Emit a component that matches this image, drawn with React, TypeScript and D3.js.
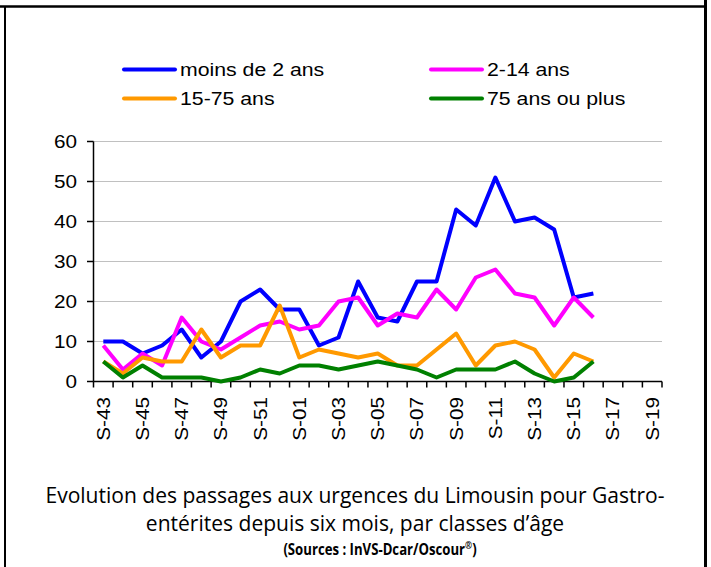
import React from 'react'
import * as d3 from 'd3'

// weeks on the x axis (S-43 .. S-52, then S-01 .. S-19)
const weeks = ['S-43', 'S-44', 'S-45', 'S-46', 'S-47', 'S-48', 'S-49', 'S-50', 'S-51', 'S-52',
  'S-01', 'S-02', 'S-03', 'S-04', 'S-05', 'S-06', 'S-07', 'S-08', 'S-09', 'S-10',
  'S-11', 'S-12', 'S-13', 'S-14', 'S-15', 'S-16', 'S-17', 'S-18', 'S-19']

const moins2 = [10, 10, 7, 9, 13, 6, 10, 20, 23, 18, 18, 9, 11, 25, 16, 15, 25, 25, 43, 39, 51, 40, 41, 38, 21, 22]
const de2a14 = [9, 3, 7, 4, 16, 10, 8, 11, 14, 15, 13, 14, 20, 21, 14, 17, 16, 23, 18, 26, 28, 22, 21, 14, 21, 16]
const de15a75 = [5, 2, 6, 5, 5, 13, 6, 9, 9, 19, 6, 8, 7, 6, 7, 4, 4, 8, 12, 4, 9, 10, 8, 1, 7, 5]
const plus75 = [5, 1, 4, 1, 1, 1, 0, 1, 3, 2, 4, 4, 3, 4, 5, 4, 3, 1, 3, 3, 3, 5, 2, 0, 1, 5]

const yTicks = [0, 10, 20, 30, 40, 50, 60]

const series = [
  { name: 'moins de 2 ans', values: moins2, color: '#0000ff' },
  { name: '2-14 ans', values: de2a14, color: '#ff00ff' },
  { name: '15-75 ans', values: de15a75, color: '#ff9900' },
  { name: '75 ans ou plus', values: plus75, color: '#008000' },
]

const W = 711
const H = 567
const font = 'Arial, "Liberation Sans", sans-serif'
const titleFont = '"Open Sans", sans-serif'
// the original glyphs are a bit wider than Arial
const stretch = 1.12

export default function App() {
  const x = d3.scaleBand<string>().domain(weeks).range([93.5, 662]).padding(0)
  const y = d3.scaleLinear().domain([0, 60]).range([381.5, 141.5])
  const bw = x.bandwidth()

  const line = d3.line<number>()
    .x((d, i) => (x(weeks[i]) as number) + bw / 2)
    .y(d => y(d))

  // tick marks sit between categories
  const xTickPos = weeks.map(w => x(w) as number).concat([662])

  return (
    <svg width={W} height={H} style={{ position: 'absolute', left: 0, top: 0, background: '#fff' }}>
      {/* frame */}
      <line x1={0} x2={705} y1={6.5} y2={6.5} stroke="#000" strokeWidth={2.5} />
      <line x1={5} x2={5} y1={6} y2={H} stroke="#000" strokeWidth={2} />
      <line x1={705.5} x2={705.5} y1={0} y2={H} stroke="#000" strokeWidth={3} />

      {/* legend */}
      {series.map((s, i) => {
        const lx = i % 2 === 0 ? 124 : 431
        const ly = i < 2 ? 69.5 : 98.5
        return (
          <g key={s.name}>
            <line x1={lx} x2={lx + 51} y1={ly} y2={ly} stroke={s.color} strokeWidth={4} strokeLinecap="round" />
            <text transform={`translate(${lx + 56},${ly + 6.5}) scale(1.15,1)`}
              fontFamily={font} fontSize={18.5} fill="#000">{s.name}</text>
          </g>
        )
      })}

      {/* gridlines */}
      {yTicks.filter(t => t > 0).map(t => (
        <line key={t} x1={93.5} x2={662} y1={y(t)} y2={y(t)} stroke="#c0c0c0" strokeWidth={1} />
      ))}

      {/* y axis */}
      <line x1={93.5} x2={93.5} y1={y(60)} y2={y(0)} stroke="#000" strokeWidth={1.5} />
      {yTicks.map(t => (
        <g key={t}>
          <line x1={87} x2={93.5} y1={y(t)} y2={y(t)} stroke="#000" strokeWidth={1.5} />
          <text transform={`translate(77,${y(t) + 6.5}) scale(${stretch},1)`} textAnchor="end"
            fontFamily={font} fontSize={18.5} fill="#000">{t}</text>
        </g>
      ))}

      {/* x axis */}
      <line x1={93.5} x2={662} y1={y(0)} y2={y(0)} stroke="#000" strokeWidth={1.5} />
      {xTickPos.map((p, i) => (
        <line key={i} x1={p} x2={p} y1={y(0)} y2={y(0) + 6} stroke="#000" strokeWidth={1.5} />
      ))}
      {weeks.map((w, i) => i % 2 === 0 ? (
        <text key={w} transform={`translate(${(x(w) as number) + bw / 2 + 6.5},397) rotate(-90) scale(${stretch},1)`}
          textAnchor="end" fontFamily={font} fontSize={18.5} fill="#000">{w}</text>
      ) : null)}

      {/* series */}
      {series.map(s => (
        <path key={s.name} d={line(s.values) || ''} fill="none" stroke={s.color}
          strokeWidth={4} strokeLinejoin="round" />
      ))}

      {/* caption, condensed */}
      <text transform="translate(355,503) scale(0.935,1)" textAnchor="middle" fontFamily={titleFont} fontSize={22.5} fill="#000">
        Evolution des passages aux urgences du Limousin pour Gastro-
      </text>
      <text transform="translate(355,531) scale(0.935,1)" textAnchor="middle" fontFamily={titleFont} fontSize={22.5} fill="#000">
        entérites depuis six mois, par classes d’âge
      </text>
      <text transform="translate(380,555) scale(0.85,1)" textAnchor="middle" fontFamily={titleFont} fontSize={15.5} fontWeight="bold" fill="#000">
        (Sources : InVS-Dcar/Oscour<tspan fontSize={10} dy={-6}>®</tspan><tspan dy={6}>)</tspan>
      </text>
    </svg>
  )
}
